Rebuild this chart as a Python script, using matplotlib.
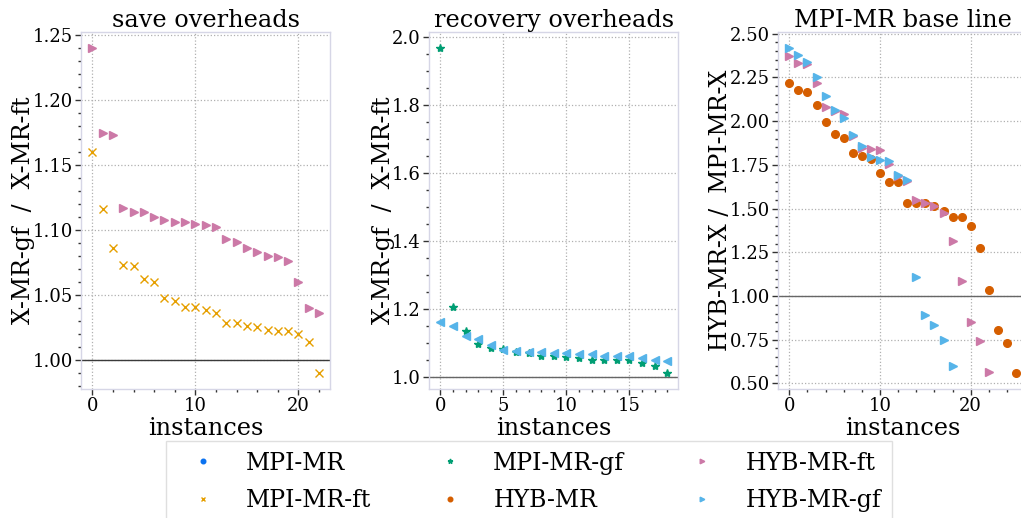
import matplotlib
matplotlib.use("Agg")
import matplotlib.pyplot as plt
from matplotlib.lines import Line2D
from matplotlib.ticker import AutoMinorLocator

plt.rcParams['font.family'] = ['DejaVu Serif']

# ---- data -------------------------------------------------------------
# save overheads: X-MR-gf / X-MR-ft
save_mpi_ft = [1.160, 1.116, 1.086, 1.073, 1.072, 1.062, 1.060, 1.048, 1.045,
               1.041, 1.041, 1.038, 1.036, 1.028, 1.028, 1.026, 1.025, 1.023,
               1.022, 1.022, 1.020, 1.014, 0.990]
save_hyb_ft = [1.240, 1.175, 1.173, 1.117, 1.114, 1.114, 1.110, 1.108, 1.106,
               1.106, 1.105, 1.104, 1.102, 1.093, 1.091, 1.086, 1.083, 1.080,
               1.079, 1.076, 1.060, 1.040, 1.036]

# recovery overheads
rec_mpi_gf = [1.968, 1.208, 1.136, 1.098, 1.086, 1.082, 1.073, 1.070, 1.063,
              1.063, 1.060, 1.057, 1.052, 1.052, 1.052, 1.052, 1.043, 1.034,
              1.013]
rec_hyb_gf = [1.163, 1.150, 1.121, 1.113, 1.094, 1.080, 1.076, 1.075, 1.073,
              1.072, 1.071, 1.068, 1.067, 1.063, 1.063, 1.061, 1.057, 1.052,
              1.047]

# MPI-MR base line: HYB-MR-X / MPI-MR-X
base_hyb = [2.215, 2.175, 2.166, 2.092, 1.993, 1.926, 1.905, 1.816, 1.801,
            1.786, 1.704, 1.649, 1.649, 1.533, 1.533, 1.531, 1.512, 1.487,
            1.453, 1.449, 1.400, 1.275, 1.034, 0.808, 0.731, 0.561]
base_hyb_ft = [2.371, 2.331, 2.329, 2.215, 2.080, 2.060, 2.038, 1.915, 1.847,
               1.839, 1.833, 1.754, 1.685, 1.655, 1.550, 1.531, 1.514, 1.476,
               1.315, 1.083, 0.851, 0.743, 0.567]
base_hyb_gf = [2.416, 2.378, 2.337, 2.251, 2.145, 2.063, 2.016, 1.919, 1.858,
               1.792, 1.776, 1.771, 1.689, 1.664, 1.108, 0.893, 0.832, 0.751,
               0.599]

series_names = ['MPI-MR', 'MPI-MR-ft', 'MPI-MR-gf', 'HYB-MR', 'HYB-MR-ft', 'HYB-MR-gf']

# ---- styles -----------------------------------------------------------
STY = {
    'MPI-MR':    dict(marker='o', color='#0a72f0', ms=5.5),
    'MPI-MR-ft': dict(marker='x', color='#E69F00', ms=5.5, mew=1.0),
    'MPI-MR-gf': dict(marker='*', color='#009E73', ms=6.0),
    'HYB-MR':    dict(marker='o', color='#D55E00', ms=5.5),
    'HYB-MR-ft': dict(marker='>', color='#CC79A7', ms=5.5),
    'HYB-MR-gf': dict(marker='>', color='#56B4E9', ms=5.5),
}
SPINE = '#d6d6e6'

fig = plt.figure(figsize=(10.21, 5.18), dpi=100)
bottom, height, width = 0.249, 0.689, 0.2443
ax1 = fig.add_axes([0.0793, bottom, width, height])
ax2 = fig.add_axes([0.4202, bottom, width, height])
ax3 = fig.add_axes([0.7620, bottom, width, height])


def plot_series(ax, values, name, **kw):
    st = dict(STY[name])
    st.update(kw)
    mk = st.pop('marker')
    ax.plot(range(len(values)), values, linestyle='none', marker=mk,
            label=name, **st)


plot_series(ax1, save_mpi_ft, 'MPI-MR-ft')
plot_series(ax1, save_hyb_ft, 'HYB-MR-ft')

plot_series(ax2, rec_mpi_gf, 'MPI-MR-gf')
plot_series(ax2, rec_hyb_gf, 'HYB-MR-gf', marker='<')

plot_series(ax3, base_hyb, 'HYB-MR')
plot_series(ax3, base_hyb_ft, 'HYB-MR-ft')
plot_series(ax3, base_hyb_gf, 'HYB-MR-gf')

titles = ['save overheads', 'recovery overheads', 'MPI-MR base line']
ylabels = ['X-MR-gf  /  X-MR-ft', 'X-MR-gf  /  X-MR-ft', 'HYB-MR-X /  MPI-MR-X']
hline_cols = ['#3a3a3a', '#666666', '#666666']
for ax, t, yl, hc in zip((ax1, ax2, ax3), titles, ylabels, hline_cols):
    ax.axhline(1.0, color=hc, lw=1.0, zorder=1)
    ax.set_title(t, fontsize=17.3, pad=2)
    ax.set_xlabel('instances', fontsize=17.3, labelpad=1)
    ax.set_ylabel(yl, fontsize=17, labelpad=-2)
    ax.grid(True, which='major', linestyle=':', color='#b0b0b0', lw=0.9)
    ax.set_axisbelow(True)
    ax.xaxis.set_minor_locator(AutoMinorLocator())
    ax.yaxis.set_minor_locator(AutoMinorLocator())
    ax.tick_params(which='major', direction='out', length=4, width=1.0,
                   color='#333333', labelsize=13, pad=2)
    ax.tick_params(which='minor', direction='out', length=2, width=1.0,
                   color='#333333')
    for s in ax.spines.values():
        s.set_color(SPINE)
        s.set_linewidth(1.0)

ax1.set_yticks([1.00, 1.05, 1.10, 1.15, 1.20, 1.25])
ax2.set_yticks([1.0, 1.2, 1.4, 1.6, 1.8, 2.0])
ax3.set_yticks([0.50, 0.75, 1.00, 1.25, 1.50, 1.75, 2.00, 2.25, 2.50])
ax1.set_xticks([0, 10, 20])
ax2.set_xticks([0, 5, 10, 15])
ax3.set_xticks([0, 10, 20])

handles = []
for n in series_names:
    st = STY[n]
    handles.append(Line2D([], [], linestyle='none', marker=st['marker'],
                          color=st['color'], markersize=st['ms'] * 0.6,
                          markeredgewidth=st.get('mew', 1.0), label=n))
leg = fig.legend(handles=handles, ncol=3, loc='upper left',
                 bbox_to_anchor=(166 / 1021, 1 - 441 / 518),
                 borderaxespad=0.0, fontsize=17,
                 frameon=True, fancybox=False, edgecolor='#d8d8d8',
                 columnspacing=2.2, handletextpad=0.75, borderpad=0.45,
                 labelspacing=0.6, handlelength=2.2)

fig.savefig('out.png', dpi=100)
